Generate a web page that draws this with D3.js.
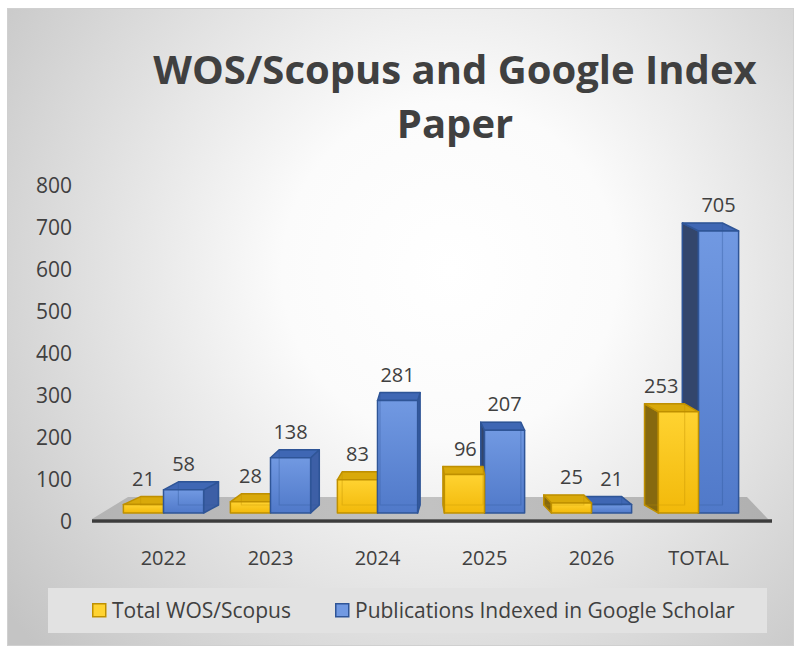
<!DOCTYPE html>
<html>
<head>
<meta charset="utf-8">
<script src="https://cdn.jsdelivr.net/npm/d3@7"></script>
<style>
  body { margin: 0; background: #fff; }
  text { font-family: "Open Sans", "Noto Sans", sans-serif; fill: #404040; }
</style>
</head>
<body>
<div id="chart"></div>
<script>
var categories = ["2022", "2023", "2024", "2025", "2026", "TOTAL"];
var seriesNames = ["Total WOS/Scopus", "Publications Indexed in Google Scholar"];
var wosValues = [21, 28, 83, 96, 25, 253];
var scholarValues = [58, 138, 281, 207, 21, 705];
var yTicks = [0, 100, 200, 300, 400, 500, 600, 700, 800];

var width = 794, height = 646;

var svg = d3.select("#chart")
  .append("svg")
    .attr("width", width)
    .attr("height", height);

var defs = svg.append("defs");

var bg = defs.append("radialGradient").attr("id", "bg")
    .attr("gradientUnits", "userSpaceOnUse")
    .attr("cx", 450).attr("cy", 270).attr("r", 560);
bg.append("stop").attr("offset", "0%").attr("stop-color", "#ffffff");
bg.append("stop").attr("offset", "30%").attr("stop-color", "#fbfbfb");
bg.append("stop").attr("offset", "100%").attr("stop-color", "#c4c4c4");

var floorGrad = defs.append("linearGradient").attr("id", "floor")
    .attr("x1", 0).attr("x2", 1).attr("y1", 0).attr("y2", 0);
floorGrad.append("stop").attr("offset", "0%").attr("stop-color", "#b4b4b4");
floorGrad.append("stop").attr("offset", "50%").attr("stop-color", "#c2c2c2");
floorGrad.append("stop").attr("offset", "100%").attr("stop-color", "#b0b0b0");

var styles = [
  {front: ["#ffd331", "#f2b90a"], top: "#d9a90a", right: "#b08a08", left: "#86690f", stroke: "#bf9000"},
  {front: ["#7199e2", "#5079c9"], top: "#3f67b4", right: "#3d5fa6", left: "#33466c", stroke: "#2f5597"}
];
styles.forEach(function(s, i) {
  var g = defs.append("linearGradient").attr("id", "front" + i)
      .attr("x1", 0).attr("x2", 0).attr("y1", 0).attr("y2", 1);
  g.append("stop").attr("offset", "0%").attr("stop-color", s.front[0]);
  g.append("stop").attr("offset", "100%").attr("stop-color", s.front[1]);
});

// chart area
svg.append("rect")
    .attr("x", 7.5).attr("y", 8.5)
    .attr("width", width - 8).attr("height", height - 9)
    .attr("fill", "url(#bg)")
    .attr("stroke", "#d0d0d0");

// title
var title = svg.append("text")
    .attr("text-anchor", "middle")
    .attr("font-weight", 700)
    .style("font-size", "40px");
title.append("tspan").attr("x", 455).attr("y", 84).text("WOS/Scopus and Google Index");
title.append("tspan").attr("x", 455).attr("y", 138).text("Paper");

var x = d3.scaleBand()
  .domain(categories)
  .range([110, 752])
  .paddingInner(0.25)
  .paddingOuter(0.125);

var xSeries = d3.scaleBand()
  .domain([0, 1])
  .range([0, x.bandwidth()]);

var yAxisScale = d3.scaleLinear().domain([0, 800]).range([521, 185]);
var yBar = d3.scaleLinear().domain([0, 800]).range([513, 193]);

// y axis labels
svg.append("g")
  .selectAll("text")
  .data(yTicks)
  .enter()
  .append("text")
    .attr("x", 72)
    .attr("y", function(d) { return yAxisScale(d); })
    .attr("dy", "0.36em")
    .attr("text-anchor", "end")
    .style("font-size", "21px")
    .text(function(d) { return d; });

// floor
var floorY0 = 497, floorY1 = 519;
svg.append("polygon")
    .attr("points", [[128, floorY0], [747, floorY0], [768, floorY1], [92, floorY1]].join(" "))
    .attr("fill", "url(#floor)");
svg.append("line")
    .attr("x1", 92).attr("x2", 772)
    .attr("y1", 521).attr("y2", 521)
    .attr("stroke", "#3c3c3c")
    .attr("stroke-width", 3.5);

// perspective: side offset depends on distance to the vanishing column
var vanishX = 440, depthY = -8;
function depthX(cx) { return -0.058 * (cx - vanishX); }

var bars = [];
categories.forEach(function(c, i) {
  [wosValues[i], scholarValues[i]].forEach(function(v, s) {
    var x0 = x(c) + xSeries(s);
    var x1 = x0 + xSeries.bandwidth();
    bars.push({cat: c, s: s, value: v, x0: x0, x1: x1, cx: (x0 + x1) / 2});
  });
});
var drawOrder = bars.slice().sort(function(a, b) {
  return Math.abs(b.cx - vanishX) - Math.abs(a.cx - vanishX);
});

var barG = svg.append("g");
drawOrder.forEach(function(b) {
  var st = styles[b.s];
  var yt = yBar(b.value), yb = yBar(0);
  var dx = depthX(b.cx), dy = depthY;
  var g = barG.append("g")
      .attr("stroke", st.stroke)
      .attr("stroke-width", 1.5)
      .attr("stroke-linejoin", "round");
  // side face
  var sx = dx > 0 ? b.x1 : b.x0;
  g.append("polygon")
      .attr("points", [[sx, yt], [sx + dx, yt + dy], [sx + dx, yb + dy], [sx, yb]].join(" "))
      .attr("fill", dx > 0 ? st.right : st.left);
  // top face
  g.append("polygon")
      .attr("points", [[b.x0, yt], [b.x0 + dx, yt + dy], [b.x1 + dx, yt + dy], [b.x1, yt]].join(" "))
      .attr("fill", st.top);
  // front face
  g.append("rect")
      .attr("x", b.x0).attr("y", yt)
      .attr("width", b.x1 - b.x0).attr("height", yb - yt)
      .attr("fill", "url(#front" + b.s + ")");
  // back edges showing through
  g.append("rect")
      .attr("x", b.x0 + dx).attr("y", yt + dy)
      .attr("width", b.x1 - b.x0).attr("height", yb - yt)
      .attr("fill", "none")
      .attr("stroke-opacity", 0.35)
      .attr("stroke-width", 1.2);
});

// data labels; a label that would run into a taller neighbour's side face is pushed left
function labelPos(d, i) {
  var next = bars[i + 1];
  if (d.s === 0 && next && next.value > d.value && depthX(next.cx) < 0) {
    return {x: next.x0 + depthX(next.cx) - 4, anchor: "end"};
  }
  return {x: d.cx, anchor: "middle"};
}
svg.append("g")
  .selectAll("text")
  .data(bars)
  .enter()
  .append("text")
    .attr("x", function(d, i) { return labelPos(d, i).x; })
    .attr("y", function(d) { return yBar(d.value) + depthY - 11; })
    .attr("text-anchor", function(d, i) { return labelPos(d, i).anchor; })
    .style("font-size", "20px")
    .text(function(d) { return d.value; });

// category labels
svg.append("g")
  .selectAll("text")
  .data(categories)
  .enter()
  .append("text")
    .attr("x", function(d) { return x(d) + x.bandwidth() / 2; })
    .attr("y", 565)
    .attr("text-anchor", "middle")
    .style("font-size", "20px")
    .text(function(d) { return d; });

// legend
svg.append("rect")
    .attr("x", 48).attr("y", 588)
    .attr("width", 719).attr("height", 45)
    .attr("fill", "#e2e2e2");

var legendX = [92, 335];
var legend = svg.append("g")
  .selectAll("g")
  .data(seriesNames)
  .enter()
  .append("g");
legend.append("rect")
    .attr("x", function(d, i) { return legendX[i] + 0.75; })
    .attr("y", 603.75)
    .attr("width", 13).attr("height", 13)
    .attr("fill", function(d, i) { return styles[i].front[0]; })
    .attr("stroke", function(d, i) { return styles[i].stroke; })
    .attr("stroke-width", 1.5);
legend.append("text")
    .attr("x", function(d, i) { return legendX[i] + 20; })
    .attr("y", 618)
    .style("font-size", "21px")
    .text(function(d) { return d; });
</script>
</body>
</html>
